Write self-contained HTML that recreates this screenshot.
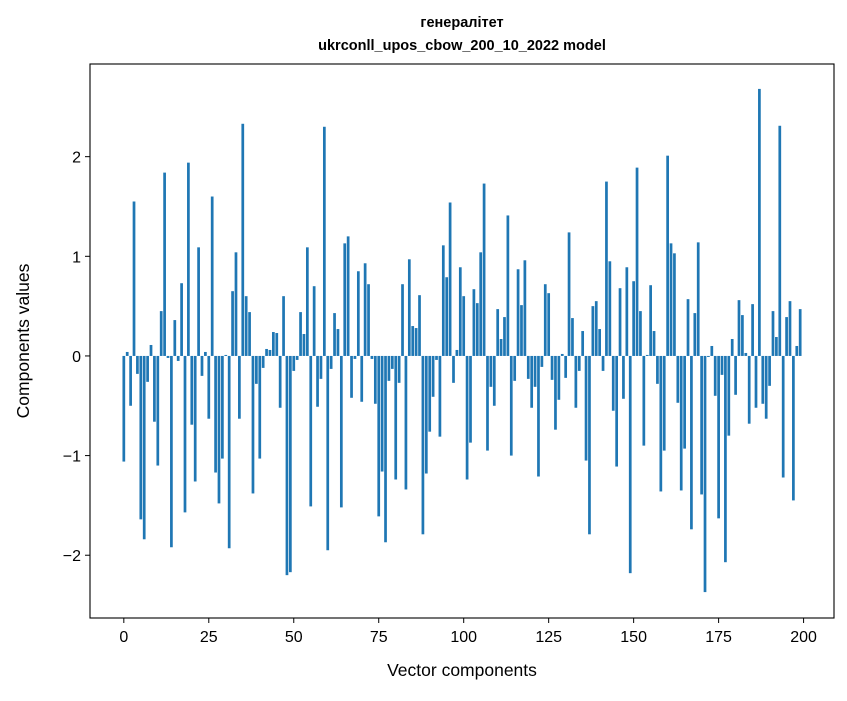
<!DOCTYPE html>
<html><head><meta charset="utf-8"><style>
body{margin:0;background:#fff;font-family:"Liberation Sans","DejaVu Sans",sans-serif;}
</style></head><body>
<svg id="chart" width="847" height="696" xmlns="http://www.w3.org/2000/svg">
<rect width="847" height="696" fill="#fff"/>
<text x="462" y="27" text-anchor="middle" font-size="14.5" font-weight="bold">генералітет</text>
<text x="462" y="50" text-anchor="middle" font-size="14.5" font-weight="bold">ukrconll_upos_cbow_200_10_2022 model</text>
<g id="bars"></g>
<rect x="90" y="64" width="744" height="554" fill="none" stroke="#000" stroke-width="1.1"/>
<g id="xt"></g><g id="yt"></g>
<text x="462" y="676" text-anchor="middle" font-size="17.5">Vector components</text>
<text transform="translate(29,341) rotate(-90)" text-anchor="middle" font-size="17.5">Components values</text>
</svg>
<script>
const values = [-1.06,0.04,-0.50,1.55,-0.18,-1.64,-1.84,-0.26,0.11,-0.66,
-1.10,0.45,1.84,-0.02,-1.92,0.36,-0.05,0.73,-1.57,1.94,
-0.69,-1.26,1.09,-0.20,0.04,-0.63,1.60,-1.17,-1.48,-1.03,
0.01,-1.93,0.65,1.04,-0.63,2.33,0.60,0.44,-1.38,-0.28,
-1.03,-0.12,0.07,0.06,0.24,0.23,-0.52,0.60,-2.20,-2.17,
-0.15,-0.04,0.44,0.22,1.09,-1.51,0.70,-0.51,-0.23,2.30,
-1.95,-0.13,0.43,0.27,-1.52,1.13,1.20,-0.42,-0.03,0.85,
-0.46,0.93,0.72,-0.03,-0.48,-1.61,-1.16,-1.87,-0.25,-0.13,
-1.24,-0.27,0.72,-1.34,0.97,0.30,0.28,0.61,-1.79,-1.18,
-0.76,-0.41,-0.04,-0.81,1.11,0.79,1.54,-0.27,0.06,0.89,
0.60,-1.24,-0.87,0.67,0.53,1.04,1.73,-0.95,-0.31,-0.50,
0.47,0.17,0.39,1.41,-1.00,-0.25,0.87,0.51,0.96,-0.23,
-0.52,-0.31,-1.21,-0.11,0.72,0.63,-0.24,-0.74,-0.44,0.02,
-0.22,1.24,0.38,-0.52,-0.15,0.25,-1.05,-1.79,0.50,0.55,
0.27,-0.15,1.75,0.95,-0.55,-1.11,0.68,-0.43,0.89,-2.18,
0.75,1.89,0.45,-0.90,0.01,0.71,0.25,-0.28,-1.36,-0.95,
2.01,1.13,1.03,-0.47,-1.35,-0.93,0.57,-1.74,0.43,1.14,
-1.39,-2.37,-0.01,0.10,-0.40,-1.63,-0.19,-2.07,-0.80,0.17,
-0.39,0.56,0.41,0.03,-0.68,0.52,-0.52,2.68,-0.48,-0.63,
-0.30,0.45,0.19,2.31,-1.22,0.39,0.55,-1.45,0.10,0.47];
const xTicks = [0,25,50,75,100,125,150,175,200];
const yTicks = [-2,-1,0,1,2];
const NS="http://www.w3.org/2000/svg";
const X0=90,X1=834,Y0=64,Y1=618,xmin=-9.95,xmax=208.95,ymin=-2.63,ymax=2.93;
const xs=v=>X0+(v-xmin)/(xmax-xmin)*(X1-X0);
const ys=v=>Y1-(v-ymin)/(ymax-ymin)*(Y1-Y0);
const bars=document.getElementById('bars');
values.forEach((v,i)=>{
  const r=document.createElementNS(NS,'rect');
  const a=xs(i-0.4),b=xs(i+0.4);
  r.setAttribute('x',a);r.setAttribute('width',b-a);
  r.setAttribute('y',Math.min(ys(v),ys(0)));r.setAttribute('height',Math.abs(ys(v)-ys(0)));
  r.setAttribute('fill','#1f77b4');
  
  
  bars.appendChild(r);
});
const xt=document.getElementById('xt');
xTicks.forEach(t=>{
  const x=xs(t);
  const l=document.createElementNS(NS,'line');
  l.setAttribute('x1',x);l.setAttribute('x2',x);l.setAttribute('y1',Y1);l.setAttribute('y2',Y1+5);l.setAttribute('stroke','#000');
  
  
  xt.appendChild(l);
  const tx=document.createElementNS(NS,'text');
  tx.setAttribute('x',x);tx.setAttribute('y',Y1+24);tx.setAttribute('text-anchor','middle');tx.setAttribute('font-size','16');
  tx.textContent=t;
  
  
  xt.appendChild(tx);
});
const yt=document.getElementById('yt');
yTicks.forEach(t=>{
  const y=ys(t);
  const l=document.createElementNS(NS,'line');
  l.setAttribute('x1',X0-5);l.setAttribute('x2',X0);l.setAttribute('y1',y);l.setAttribute('y2',y);l.setAttribute('stroke','#000');
  
  
  yt.appendChild(l);
  const tx=document.createElementNS(NS,'text');
  tx.setAttribute('x',X0-9);tx.setAttribute('y',y+6);tx.setAttribute('text-anchor','end');tx.setAttribute('font-size','16');
  tx.textContent=t<0?'\u2212'+Math.abs(t):String(t);
  
  
  yt.appendChild(tx);
});
</script>
</body></html>
